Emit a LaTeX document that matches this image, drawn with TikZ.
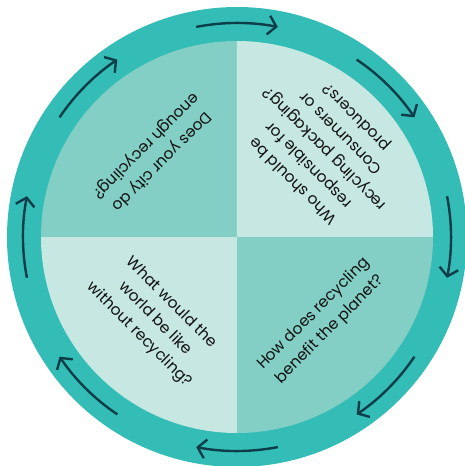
\documentclass[tikz,border=0pt]{standalone}
\usepackage{fontspec}
\setmainfont{Poppins}
\usetikzlibrary{arrows.meta}
\definecolor{ring}{HTML}{34BDB6}
\definecolor{quaddark}{HTML}{83CFC5}
\definecolor{quadlight}{HTML}{C6E7E2}
\definecolor{arrowcol}{HTML}{0E3D4A}
\definecolor{txt}{HTML}{111111}
\tikzset{
  ringarrow/.style={draw=arrowcol, line width=2.4pt, -{Straight Barb[length=8pt,width=19pt,line width=2.4pt]}},
  question/.style={align=center, text=txt, font=\fontsize{15.5}{22.5}\selectfont, inner sep=0pt}
}
\begin{document}
\begin{tikzpicture}[x=1pt,y=1pt]
\useasboundingbox (-237,-229) rectangle (228,237);
\coordinate (c) at (0,0);
\fill[ring] (c) circle[radius=230];
\fill[quaddark] (c) -- (180:196) arc[start angle=180,end angle=90,radius=196] -- cycle;
\fill[quadlight] (c) -- (90:196) arc[start angle=90,end angle=0,radius=196] -- cycle;
\fill[quaddark] (c) -- (0:196) arc[start angle=0,end angle=-90,radius=196] -- cycle;
\fill[quadlight] (c) -- (-90:196) arc[start angle=-90,end angle=-180,radius=196] -- cycle;
\foreach \a in {0,45,...,315}{
  \draw[ringarrow] (\a+11:214) arc[start angle=\a+11,end angle=\a-11,radius=214];
}
\node[question, rotate=225] (q1) at (135:118) {Does your city do\\enough recycling?};
\node[question, rotate=135] (q2) at (45:125) {Who should be\\responsible for\\recycling packaging?\\Consumers or\\producers?};
\node[question, rotate=45] (q3) at (-45:120) {How does recycling\\benefit the planet?};
\node[question, rotate=-45] (q4) at (-135:116) {What would the\\world be like\\without recycling?};
\end{tikzpicture}
\end{document}
